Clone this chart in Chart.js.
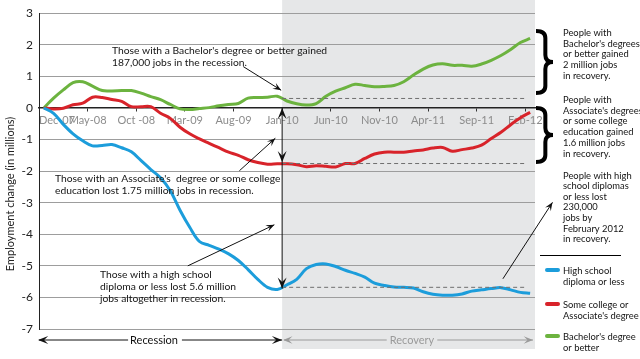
<!DOCTYPE html>
<html>
<head>
<meta charset="utf-8">
<script src="https://cdn.jsdelivr.net/npm/chart.js@4.4.1/dist/chart.umd.min.js"></script>
<style>
  html, body { margin: 0; padding: 0; background: #fff; }
  #wrap { width: 640px; height: 359px; position: relative; }
</style>
</head>
<body>
<div id="wrap"><canvas id="jobsChart"></canvas></div>
<script>
// months since Dec-07, one value per month (millions of jobs vs. Dec-07)
var tickLabels = ['Dec-07', 'May-08', 'Oct -08', 'Mar-09', 'Aug-09', 'Jan-10', 'Jun-10', 'Nov-10', 'Apr-11', 'Sep-11', 'Feb-12'];

var highSchool = [
    0, -0.17, -0.52, -0.82, -1.04, -1.20, -1.19, -1.16, -1.26, -1.39,
    -1.67, -1.95, -2.21, -2.62, -3.24, -3.78, -4.23, -4.35, -4.47, -4.62,
    -4.83, -5.12, -5.43, -5.68, -5.75, -5.60, -5.43, -5.09, -4.96, -4.94,
    -5.02, -5.14, -5.24, -5.36, -5.55, -5.62, -5.67, -5.68, -5.70, -5.82,
    -5.90, -5.93, -5.93, -5.89, -5.80, -5.76, -5.72, -5.69, -5.76, -5.84,
    -5.87
];
var someCollege = [
    0, -0.03, -0.01, 0.10, 0.15, 0.34, 0.33, 0.27, 0.21, 0.04,
    0.04, 0.04, -0.17, -0.33, -0.61, -0.82, -0.98, -1.12, -1.26, -1.40,
    -1.50, -1.64, -1.73, -1.78, -1.77, -1.77, -1.80, -1.86, -1.83, -1.85,
    -1.87, -1.76, -1.76, -1.60, -1.46, -1.40, -1.40, -1.40, -1.36, -1.33,
    -1.27, -1.25, -1.37, -1.32, -1.27, -1.18, -0.97, -0.77, -0.53, -0.31,
    -0.14
];
var bachelors = [
    0, 0.31, 0.57, 0.80, 0.83, 0.69, 0.55, 0.54, 0.55, 0.55,
    0.47, 0.36, 0.26, 0.11, -0.03, -0.05, -0.02, 0.01, 0.07, 0.11,
    0.14, 0.31, 0.33, 0.34, 0.37, 0.22, 0.13, 0.09, 0.14, 0.37,
    0.53, 0.64, 0.75, 0.71, 0.67, 0.68, 0.71, 0.83, 1.04, 1.23,
    1.36, 1.40, 1.35, 1.35, 1.32, 1.39, 1.51, 1.66, 1.85, 2.07,
    2.20
];
// level of each group when the recession ended (dashed reference lines)
var recessionEnd = 24.5;
var recoveryEnd = 49.5;
var endLevels = [0.3, -1.76, -5.68];

var colors = { hs: '#1c9ddb', sc: '#d8232a', ba: '#6cb33f' };
var FONT = 'Lato, "Open Sans", sans-serif';

function pts(arr) {
    return arr.map(function (v, i) { return { x: i, y: v }; });
}
function flat(level) {
    return [{ x: recessionEnd, y: level }, { x: recoveryEnd, y: level }];
}

function head(ctx, x, y, ang, size) {
    ctx.beginPath();
    ctx.moveTo(x, y);
    ctx.lineTo(x - size * Math.cos(ang - 0.38), y - size * Math.sin(ang - 0.38));
    ctx.lineTo(x - size * 0.55 * Math.cos(ang), y - size * 0.55 * Math.sin(ang));
    ctx.lineTo(x - size * Math.cos(ang + 0.38), y - size * Math.sin(ang + 0.38));
    ctx.closePath();
    ctx.fill();
}
function arrow(ctx, x1, y1, x2, y2, size) {
    ctx.beginPath();
    ctx.moveTo(x1, y1);
    ctx.lineTo(x2, y2);
    ctx.stroke();
    head(ctx, x2, y2, Math.atan2(y2 - y1, x2 - x1), size);
}
function textLines(ctx, lines, x, y, lh) {
    lines.forEach(function (t, i) { ctx.fillText(t, x, y + i * lh); });
}
function brace(ctx, x, y1, y2, w) {
    var ym = (y1 + y2) / 2, r = 7, mx = x + w * 0.55;
    ctx.beginPath();
    ctx.moveTo(x, y1);
    ctx.quadraticCurveTo(mx, y1, mx, y1 + r);
    ctx.lineTo(mx, ym - r);
    ctx.quadraticCurveTo(mx, ym, x + w, ym);
    ctx.quadraticCurveTo(mx, ym, mx, ym + r);
    ctx.lineTo(mx, y2 - r);
    ctx.quadraticCurveTo(mx, y2, x, y2);
    ctx.stroke();
}

var notes = {
    id: 'notes',
    beforeDraw: function (chart) {
        var ctx = chart.ctx, a = chart.chartArea;
        var gx = chart.scales.x.getPixelForValue(recessionEnd);
        ctx.save();
        ctx.fillStyle = '#e6e7e8';
        ctx.fillRect(gx, 0, a.right - gx, a.bottom + 20);
        ctx.restore();
    },
    afterDraw: function (chart) {
        var ctx = chart.ctx, a = chart.chartArea;
        var xs = chart.scales.x, ys = chart.scales.y;
        var X = function (v) { return xs.getPixelForValue(v); };
        var Y = function (v) { return ys.getPixelForValue(v); };
        var gx = X(recessionEnd);
        ctx.save();

        // y axis title
        ctx.fillStyle = '#222';
        ctx.font = '11px ' + FONT;
        ctx.textAlign = 'center';
        ctx.textBaseline = 'middle';
        ctx.save();
        ctx.translate(10, 194);
        ctx.rotate(-Math.PI / 2);
        ctx.fillText('Employment change (in millions)', 0, 0);
        ctx.restore();

        // arrows inside the plot
        ctx.strokeStyle = '#111';
        ctx.fillStyle = '#111';
        ctx.lineWidth = 1;
        arrow(ctx, X(20.5), Y(1.31), X(24.4), Y(0.56), 9);
        arrow(ctx, X(20.1), Y(-1.99), X(23.8), Y(-0.96), 9);
        arrow(ctx, X(14.8), Y(-5.0), X(23.7), Y(-3.70), 9);
        arrow(ctx, X(47.2), Y(-5.41), X(52.3), Y(-2.99), 9);

        ctx.beginPath();
        ctx.moveTo(gx, Y(0));
        ctx.lineTo(gx, Y(-5.72));
        ctx.stroke();
        head(ctx, gx, Y(0), -Math.PI / 2, 12);
        head(ctx, gx, Y(-1.72), Math.PI / 2, 12);
        head(ctx, gx, Y(-5.72), Math.PI / 2, 12);

        // annotation texts
        ctx.fillStyle = '#141414';
        ctx.font = '10.3px ' + FONT;
        ctx.textAlign = 'left';
        textLines(ctx, ["Those with a Bachelor's degree or better gained", '187,000 jobs in the recession.'], 112, 51, 11.3);
        textLines(ctx, ["Those with an Associate's  degree or some college", 'education lost 1.75 million jobs in recession.'], 55, 179, 11.7);
        textLines(ctx, ['Those with a high school', 'diploma or less lost 5.6 million', 'jobs altogether in recession.'], 100, 275, 11.7);

        // right hand notes
        ctx.font = '9.4px ' + FONT;
        textLines(ctx, ['People with', "Bachelor's degrees", 'or better gained', '2 million jobs', 'in recovery.'], 563, 33, 10.7);
        textLines(ctx, ['People with', "Associate's degrees", 'or some college', 'education gained', '1.6 million jobs', 'in recovery.'], 563, 100, 10.7);
        textLines(ctx, ['People with high', 'school diplomas', 'or less lost', '230,000', 'jobs by', 'February 2012', 'in recovery.'], 563, 175.5, 10.6);

        ctx.lineWidth = 4;
        ctx.strokeStyle = '#000';
        brace(ctx, a.right + 1, 31, 93, 17);
        brace(ctx, a.right + 1, 108, 162, 17);

        ctx.lineWidth = 1;
        ctx.beginPath();
        ctx.moveTo(540, 255.5);
        ctx.lineTo(621, 255.5);
        ctx.stroke();

        // legend
        var legend = [
            [colors.hs, ['High school', 'diploma or less'], 270],
            [colors.sc, ['Some college or', "Associate's degree"], 304],
            [colors.ba, ["Bachelor's degree", 'or better'], 336]
        ];
        ctx.lineCap = 'round';
        legend.forEach(function (item) {
            ctx.strokeStyle = item[0];
            ctx.lineWidth = 4;
            ctx.beginPath();
            ctx.moveTo(547, item[2]);
            ctx.lineTo(558, item[2]);
            ctx.stroke();
            ctx.fillStyle = '#141414';
            textLines(ctx, item[1], 563, item[2] + 1, 10.7);
        });
        ctx.lineCap = 'butt';

        // recession / recovery arrows
        var by = 340;
        ctx.lineWidth = 1;
        ctx.strokeStyle = '#111';
        ctx.fillStyle = '#111';
        ctx.beginPath();
        ctx.moveTo(a.left, by);
        ctx.lineTo(gx, by);
        ctx.stroke();
        head(ctx, a.left - 1, by, Math.PI, 11);
        head(ctx, gx, by, 0, 11);
        ctx.font = '11px ' + FONT;
        ctx.textAlign = 'center';
        var tw = ctx.measureText('Recession').width;
        ctx.fillStyle = '#fff';
        ctx.fillRect(154 - tw / 2 - 2, by - 6, tw + 6, 12);
        ctx.fillStyle = '#111';
        ctx.fillText('Recession', 154, by);

        ctx.strokeStyle = '#9a9a9a';
        ctx.fillStyle = '#9a9a9a';
        ctx.beginPath();
        ctx.moveTo(gx + 2, by);
        ctx.lineTo(a.right - 2, by);
        ctx.stroke();
        head(ctx, gx + 1, by, Math.PI, 10);
        head(ctx, a.right - 2, by, 0, 10);
        tw = ctx.measureText('Recovery').width;
        ctx.fillStyle = '#e6e7e8';
        ctx.fillRect(412 - tw / 2 - 3, by - 6, tw + 6, 12);
        ctx.fillStyle = '#9a9a9a';
        ctx.fillText('Recovery', 412, by);

        ctx.restore();
    }
};

var tickValues = tickLabels.map(function (t, k) { return k * 5 - 0.5; }).concat([50.5]);

new Chart(document.getElementById('jobsChart').getContext('2d'), {
    type: 'line',
    data: {
        datasets: [
            { data: flat(endLevels[0]), borderColor: '#6f6f6f', borderWidth: 1, borderDash: [4, 3], pointRadius: 0 },
            { data: flat(endLevels[1]), borderColor: '#6f6f6f', borderWidth: 1, borderDash: [4, 3], pointRadius: 0 },
            { data: flat(endLevels[2]), borderColor: '#6f6f6f', borderWidth: 1, borderDash: [4, 3], pointRadius: 0 },
            { label: 'High school diploma or less', data: pts(highSchool), borderColor: colors.hs, borderWidth: 3, pointRadius: 0, tension: 0.35 },
            { label: "Some college or Associate's degree", data: pts(someCollege), borderColor: colors.sc, borderWidth: 3, pointRadius: 0, tension: 0.35 },
            { label: "Bachelor's degree or better", data: pts(bachelors), borderColor: colors.ba, borderWidth: 3, pointRadius: 0, tension: 0.35 }
        ]
    },
    options: {
        responsive: true,
        maintainAspectRatio: false,
        animation: false,
        layout: { padding: { left: 0, top: 7, right: 105, bottom: 30 } },
        plugins: { legend: { display: false }, tooltip: { enabled: false } },
        scales: {
            x: {
                type: 'linear',
                min: -0.5,
                max: 50.5,
                position: { y: 0 },
                afterFit: function (scale) { scale.height = 0; },
                afterBuildTicks: function (scale) {
                    scale.ticks = tickValues.map(function (v) { return { value: v }; });
                },
                grid: {
                    drawOnChartArea: false,
                    tickLength: 3,
                    color: function (c) { return c.tick && c.tick.value > 50 ? 'rgba(0,0,0,0)' : '#333'; }
                },
                border: { color: '#222', width: 1.5 },
                ticks: {
                    autoSkip: false,
                    maxRotation: 0,
                    align: 'inner',
                    padding: 3,
                    color: '#8c8c8c',
                    font: { family: FONT, size: 11 },
                    callback: function (value) {
                        var k = Math.round((value + 0.5) / 5);
                        if (Math.abs(value + 0.5 - k * 5) < 0.01 && k < tickLabels.length) return tickLabels[k];
                        return '';
                    }
                }
            },
            y: {
                min: -7,
                max: 3,
                afterFit: function (scale) { scale.width = 39; },
                grid: { color: '#9d9d9d', drawTicks: false },
                border: { color: '#222', width: 1 },
                ticks: {
                    stepSize: 1,
                    padding: 6,
                    color: '#222',
                    font: { family: FONT, size: 12 }
                }
            }
        }
    },
    plugins: [notes]
});
</script>
</body>
</html>
